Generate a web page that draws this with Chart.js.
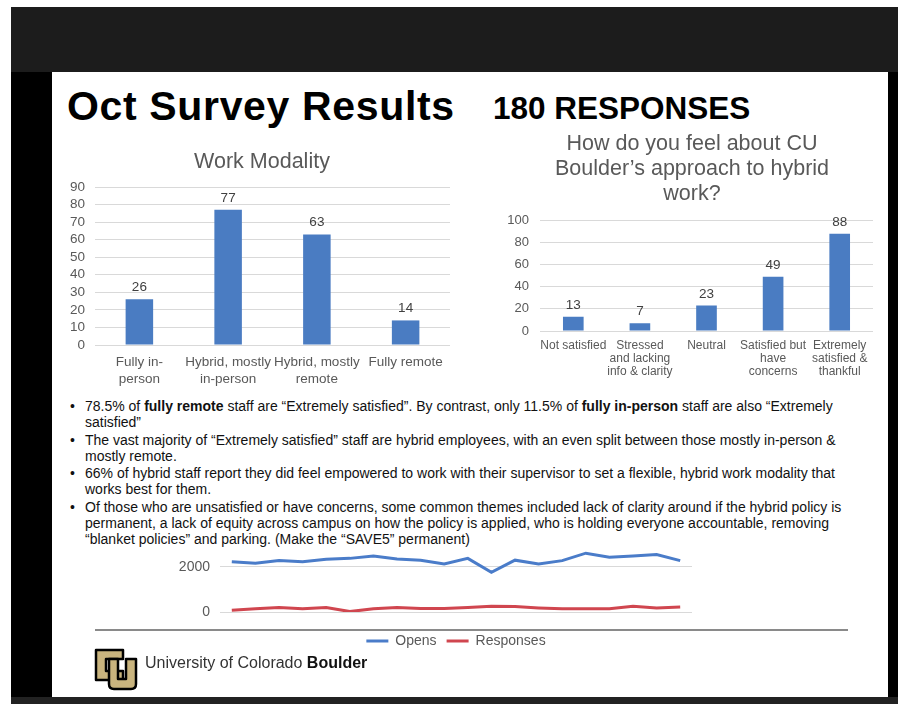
<!DOCTYPE html>
<html>
<head>
<meta charset="utf-8">
<script src="https://cdn.jsdelivr.net/npm/chart.js@4.4.0/dist/chart.umd.min.js"></script>
<style>
  html, body { margin:0; padding:0; width:898px; height:704px; overflow:hidden; background:#fff; font-family:"Liberation Sans", Arial, sans-serif; }
  #topband { position:absolute; left:11px; top:7px; width:887px; height:65px; background:#1c1c1c; }
  #black { position:absolute; left:11px; top:72px; width:887px; height:632px; background:#000; }
  #bottomband { position:absolute; left:11px; top:697px; width:887px; height:7px; background:#222; }
  #slide { position:absolute; left:52px; top:72px; width:836px; height:625px; background:#fff; }
  .abs { position:absolute; }
  #title1 { left:67px; top:83px; font-size:41px; font-weight:bold; color:#000; white-space:nowrap; letter-spacing:0.65px; }
  #title2 { left:493px; top:90px; font-size:31.5px; font-weight:bold; color:#000; white-space:nowrap; }
  .ctitle { color:#595959; font-size:21.5px; text-align:center; white-space:nowrap; }
  #ct1 { left:112px; width:300px; top:148px; line-height:26px; }
  #ct2 { left:542px; width:300px; top:130.5px; line-height:25px; }
  #bullets { left:70px; top:398px; width:820px; font-size:14px; line-height:16px; color:#111; }
  #bullets p { margin:0 0 1.5px 0; padding-left:15px; position:relative; white-space:nowrap; }
  #bullets p::before { content:"•"; position:absolute; left:0; top:0; }
  #axisline { left:95px; top:629px; width:753px; height:2px; background:#8a8a8a; }
  #footer { left:145px; top:654px; font-size:16px; color:#333; white-space:nowrap; }
  canvas { position:absolute; }
</style>
</head>
<body>
<div id="topband"></div>
<div id="black"></div>
<div id="bottomband"></div>
<div id="slide"></div>

<div id="title1" class="abs">Oct Survey Results</div>
<div id="title2" class="abs">180 RESPONSES</div>

<canvas id="c1" width="400" height="250" style="left:60px;top:140px"></canvas>
<canvas id="c2" width="385" height="260" style="left:500px;top:125px"></canvas>
<div id="ct1" class="abs ctitle">Work Modality</div>
<div id="ct2" class="abs ctitle">How do you feel about CU<br>Boulder’s approach to hybrid<br>work?</div>

<div id="bullets" class="abs">
  <p>78.5% of <b>fully remote</b> staff are “Extremely satisfied”. By contrast, only 11.5% of <b>fully in-person</b> staff are also “Extremely<br>satisfied”</p>
  <p>The vast majority of “Extremely satisfied” staff are hybrid employees, with an even split between those mostly in-person &amp;<br>mostly remote.</p>
  <p>66% of hybrid staff report they did feel empowered to work with their supervisor to set a flexible, hybrid work modality that<br>works best for them.</p>
  <p>Of those who are unsatisfied or have concerns, some common themes included lack of clarity around if the hybrid policy is<br>permanent, a lack of equity across campus on how the policy is applied, who is holding everyone accountable, removing<br>“blanket policies” and parking. (Make the “SAVE5” permanent)</p>
</div>

<canvas id="c3" width="760" height="132" style="left:90px;top:526px"></canvas>
<div id="axisline" class="abs"></div>

<svg class="abs" style="left:93px;top:645px" width="46" height="46" viewBox="0 0 46 46">
  <path d="M3,5 H30 V14 H13 V26 H30 V35 H3 Z" fill="#c9b47e" stroke="#000" stroke-width="2.5" stroke-linejoin="round"/>
  <path d="M16,14 H25 V34 H33 V14 H43 V39 Q43,44 38,44 H21 Q16,44 16,39 Z" fill="#c9b47e" stroke="#000" stroke-width="2.5" stroke-linejoin="round"/>
</svg>
<div id="footer" class="abs">University of Colorado <b style="color:#111">Boulder</b></div>

<script>
// ---- Data ----
const modalityLabels = [['Fully in-', 'person'], ['Hybrid, mostly', 'in-person'], ['Hybrid, mostly', 'remote'], ['Fully remote']];
const modalityValues = [26, 77, 63, 14];

const feelLabels = [['Not satisfied'], ['Stressed', 'and lacking', 'info & clarity'], ['Neutral'], ['Satisfied but', 'have', 'concerns'], ['Extremely', 'satisfied &', 'thankful']];
const feelValues = [13, 7, 23, 49, 88];

const sendLabels = ['1', '2', '3', '4', '5', '6', '7', '8', '9', '10', '11', '12', '13', '14', '15', '16', '17', '18', '19', '20'];
const opensValues = [2230, 2160, 2280, 2230, 2340, 2380, 2490, 2350, 2300, 2130, 2380, 1760, 2300, 2130, 2280, 2610, 2430, 2490, 2550, 2280];
const responsesValues = [75, 140, 200, 140, 200, 20, 140, 200, 160, 160, 200, 260, 240, 180, 140, 140, 140, 260, 180, 220];
const lineTickValues = [0, 2000];

// ---- Style ----
const FONT = '"Liberation Sans", Arial, sans-serif';
const GREY = '#595959';
const GRID = '#d9d9d9';
const BAR = '#4a7cc2';
Chart.defaults.font.family = FONT;
Chart.defaults.color = GREY;
Chart.defaults.animation = false;

const valueLabels = {
  id: 'valueLabels',
  afterDatasetsDraw(chart) {
    const ctx = chart.ctx;
    ctx.save();
    ctx.fillStyle = '#404040';
    ctx.font = '13.5px ' + FONT;
    ctx.textAlign = 'center';
    ctx.textBaseline = 'bottom';
    const meta = chart.getDatasetMeta(0);
    meta.data.forEach((el, i) => {
      ctx.fillText(String(chart.data.datasets[0].data[i]), el.x, el.y - 5);
    });
    ctx.restore();
  }
};

new Chart(document.getElementById('c1'), {
  type: 'bar',
  data: { labels: modalityLabels, datasets: [{ data: modalityValues, backgroundColor: BAR, categoryPercentage: 1, barPercentage: 0.31 }] },
  options: {
    responsive: false, devicePixelRatio: 1,
    layout: { padding: { left: 0, right: 10, top: 47, bottom: 0 } },
    plugins: { legend: { display: false }, tooltip: { enabled: false } },
    scales: {
      x: { grid: { display: false }, border: { display: false },
           ticks: { color: GREY, font: { size: 13.5, lineHeight: 1.25 }, maxRotation: 0, autoSkip: false, padding: 1 },
           afterFit: s => { s.height = 45; } },
      y: { min: 0, max: 90, border: { display: false }, grid: { color: GRID, drawTicks: false },
           ticks: { stepSize: 10, autoSkip: false, color: GREY, font: { size: 13.5 }, padding: 10 },
           afterFit: s => { s.width = 35; } }
    }
  },
  plugins: [valueLabels]
});

new Chart(document.getElementById('c2'), {
  type: 'bar',
  data: { labels: feelLabels, datasets: [{ data: feelValues, backgroundColor: BAR, categoryPercentage: 1, barPercentage: 0.31 }] },
  options: {
    responsive: false, devicePixelRatio: 1,
    layout: { padding: { left: 0, right: 12, top: 95.5, bottom: 0 } },
    plugins: { legend: { display: false }, tooltip: { enabled: false } },
    scales: {
      x: { grid: { display: false }, border: { display: false },
           ticks: { color: GREY, font: { size: 12, lineHeight: 1.1 }, maxRotation: 0, autoSkip: false, padding: 0 },
           afterFit: s => { s.height = 54; } },
      y: { min: 0, max: 100, border: { display: false }, grid: { color: GRID, drawTicks: false },
           ticks: { stepSize: 20, autoSkip: false, color: GREY, font: { size: 13 }, padding: 11 },
           afterFit: s => { s.width = 40; } }
    }
  },
  plugins: [valueLabels]
});

new Chart(document.getElementById('c3'), {
  type: 'line',
  data: { labels: sendLabels, datasets: [
    { label: 'Opens', data: opensValues, borderColor: '#4a7cc9', backgroundColor: '#4a7cc9', borderWidth: 3, pointRadius: 0, tension: 0 },
    { label: 'Responses', data: responsesValues, borderColor: '#d0464f', backgroundColor: '#d0464f', borderWidth: 3, pointRadius: 0, tension: 0 }
  ] },
  options: {
    responsive: false, devicePixelRatio: 1,
    layout: { padding: { left: 0, right: 158, top: 4, bottom: 0 } },
    plugins: {
      tooltip: { enabled: false },
      legend: { position: 'bottom', fullSize: false, labels: { usePointStyle: true, pointStyle: 'line', pointStyleWidth: 22, color: GREY, font: { size: 14 }, padding: 10 } }
    },
    scales: {
      x: { offset: true, grid: { display: false }, border: { display: false }, ticks: { display: false }, afterFit: s => { s.height = 12; } },
      y: { min: 0, max: 3000, border: { display: false }, grid: { color: GRID, drawTicks: false },
           ticks: { color: GREY, font: { size: 14 }, padding: 10, callback: v => String(v) },
           afterBuildTicks: s => { s.ticks = lineTickValues.map(v => ({ value: v })); },
           afterFit: s => { s.width = 130; } }
    }
  }
});
</script>
</body>
</html>
